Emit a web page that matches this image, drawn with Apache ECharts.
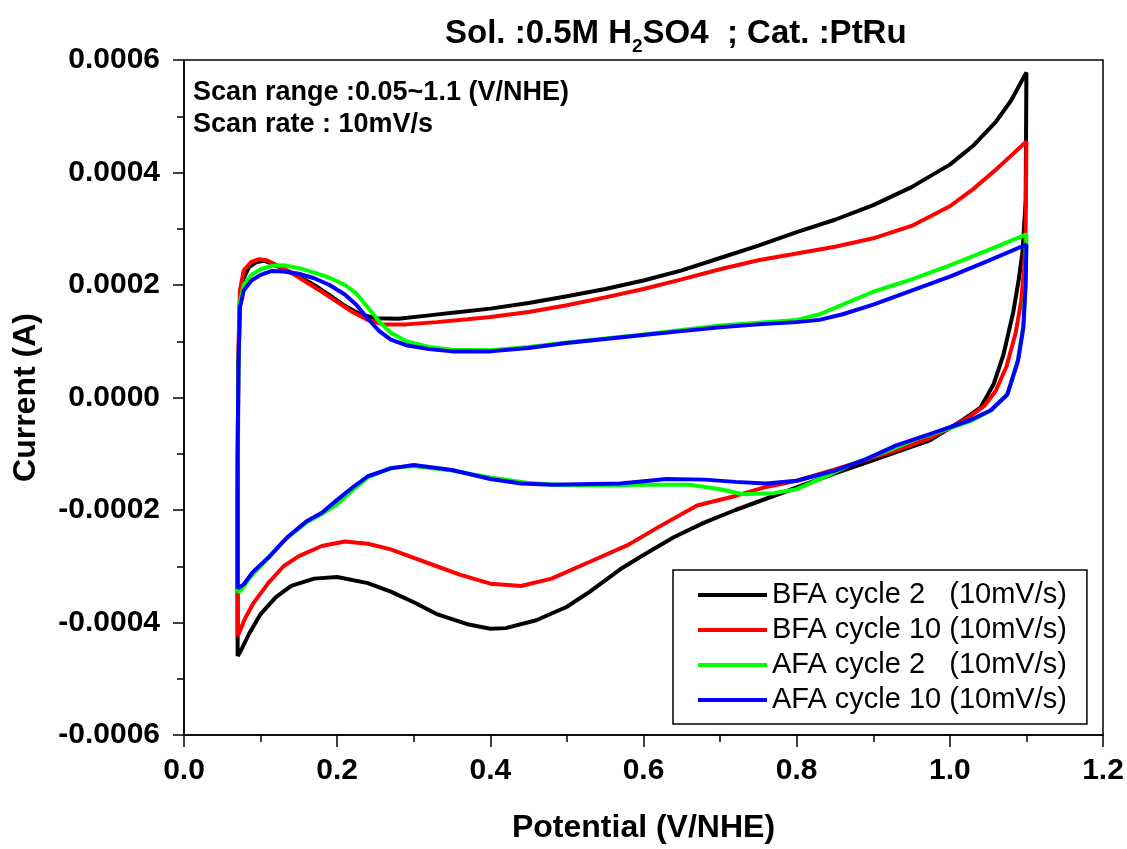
<!DOCTYPE html>
<html>
<head>
<meta charset="utf-8">
<script src="https://cdn.jsdelivr.net/npm/echarts@6/dist/echarts.min.js"></script>
<style>
  html, body { margin: 0; padding: 0; background: #fff; }
  #chart { width: 1127px; height: 849px; }
</style>
</head>
<body>
<div id="chart"></div>
<script>
// legend names
const seriesNames = ['BFA cycle 2   (10mV/s)', 'BFA cycle 10 (10mV/s)', 'AFA cycle 2   (10mV/s)', 'AFA cycle 10 (10mV/s)'];
const seriesColors = ['#000000', '#ff0000', '#00ff00', '#0000ff'];

// [potential V/NHE, current A] - anodic sweep then cathodic sweep back
const bfa2 = [
  [0.070,-0.000460],[0.070,-0.000200],[0.071,0.000050],[0.073,0.000170],[0.078,0.000212],[0.085,0.000232],
  [0.095,0.000241],[0.105,0.000243],[0.115,0.000238],[0.13,0.000228],[0.15,0.000215],[0.17,0.000200],
  [0.19,0.000182],[0.21,0.000163],[0.23,0.000148],[0.25,0.000141],[0.28,0.000140],[0.32,0.000146],
  [0.36,0.000152],[0.40,0.000158],[0.45,0.000168],[0.50,0.000180],[0.55,0.000193],[0.60,0.000208],
  [0.65,0.000226],[0.70,0.000248],[0.75,0.000270],[0.80,0.000294],[0.85,0.000316],[0.90,0.000342],
  [0.95,0.000374],[1.00,0.000414],[1.03,0.000447],[1.06,0.000490],[1.08,0.000528],[1.10,0.000578],
  [1.099,0.000350],[1.095,0.000260],[1.090,0.000210],[1.083,0.000153],[1.070,0.000076],[1.057,0.000023],
  [1.040,-0.000018],[1.017,-0.000040],[0.974,-0.000076],[0.93,-0.000097],[0.89,-0.000116],[0.85,-0.000135],
  [0.80,-0.000160],[0.76,-0.000180],[0.72,-0.000200],[0.68,-0.000222],[0.64,-0.000248],[0.60,-0.000280],
  [0.57,-0.000305],[0.53,-0.000345],[0.50,-0.000372],[0.46,-0.000396],[0.42,-0.000410],[0.40,-0.000411],
  [0.37,-0.000403],[0.33,-0.000385],[0.30,-0.000364],[0.27,-0.000345],[0.24,-0.000330],[0.20,-0.000319],
  [0.17,-0.000322],[0.14,-0.000335],[0.12,-0.000355],[0.10,-0.000385],[0.085,-0.000420],[0.075,-0.000448],
  [0.070,-0.000460]
];
const bfa10 = [
  [0.070,-0.000425],[0.070,-0.000150],[0.071,0.000080],[0.073,0.000190],[0.078,0.000226],[0.088,0.000241],
  [0.098,0.000246],[0.108,0.000244],[0.12,0.000236],[0.14,0.000222],[0.16,0.000205],[0.18,0.000188],
  [0.20,0.000170],[0.22,0.000152],[0.24,0.000138],[0.26,0.000130],[0.29,0.000130],[0.33,0.000134],
  [0.37,0.000139],[0.40,0.000143],[0.45,0.000152],[0.50,0.000164],[0.55,0.000178],[0.60,0.000193],
  [0.65,0.000210],[0.70,0.000228],[0.75,0.000244],[0.80,0.000256],[0.85,0.000268],[0.90,0.000283],
  [0.95,0.000305],[1.00,0.000340],[1.03,0.000370],[1.06,0.000405],[1.08,0.000430],[1.10,0.000455],
  [1.099,0.000300],[1.097,0.000230],[1.093,0.000170],[1.086,0.000115],[1.074,0.000055],[1.060,0.000012],
  [1.045,-0.000015],[1.022,-0.000038],[0.974,-0.000072],[0.93,-0.000094],[0.89,-0.000111],[0.85,-0.000128],
  [0.80,-0.000148],[0.76,-0.000159],[0.72,-0.000175],[0.67,-0.000192],[0.62,-0.000230],[0.58,-0.000262],
  [0.53,-0.000292],[0.48,-0.000322],[0.44,-0.000335],[0.40,-0.000331],[0.36,-0.000315],[0.33,-0.000300],
  [0.30,-0.000285],[0.27,-0.000270],[0.24,-0.000260],[0.21,-0.000256],[0.18,-0.000264],[0.15,-0.000282],
  [0.13,-0.000300],[0.11,-0.000330],[0.09,-0.000367],[0.08,-0.000392],[0.072,-0.000418],[0.070,-0.000425]
];
const afa2 = [
  [0.070,-0.000347],[0.070,-0.000100],[0.071,0.000050],[0.073,0.000170],[0.078,0.000200],[0.088,0.000218],
  [0.10,0.000228],[0.115,0.000234],[0.13,0.000235],[0.15,0.000230],[0.17,0.000222],[0.19,0.000213],
  [0.21,0.000200],[0.225,0.000185],[0.24,0.000160],[0.255,0.000135],[0.27,0.000115],[0.29,0.000100],
  [0.32,0.000090],[0.35,0.000085],[0.40,0.000084],[0.45,0.000090],[0.50,0.000098],[0.55,0.000105],
  [0.60,0.000112],[0.65,0.000120],[0.70,0.000128],[0.75,0.000133],[0.80,0.000138],[0.83,0.000148],
  [0.86,0.000165],[0.90,0.000188],[0.95,0.000210],[1.00,0.000235],[1.05,0.000262],[1.10,0.000290],
  [1.099,0.000210],[1.096,0.000130],[1.089,0.000068],[1.076,0.000008],[1.055,-0.000022],[1.027,-0.000042],
  [1.00,-0.000055],[0.96,-0.000072],[0.92,-0.000094],[0.87,-0.000120],[0.83,-0.000145],[0.80,-0.000163],
  [0.77,-0.000170],[0.73,-0.000172],[0.70,-0.000163],[0.66,-0.000155],[0.60,-0.000155],[0.55,-0.000156],
  [0.50,-0.000156],[0.45,-0.000152],[0.40,-0.000142],[0.35,-0.000130],[0.30,-0.000122],[0.27,-0.000125],
  [0.24,-0.000142],[0.22,-0.000165],[0.20,-0.000190],[0.18,-0.000207],[0.16,-0.000222],[0.13,-0.000255],
  [0.10,-0.000300],[0.085,-0.000322],[0.075,-0.000342],[0.070,-0.000347]
];
const afa10 = [
  [0.070,-0.000340],[0.070,-0.000100],[0.071,0.000050],[0.073,0.000160],[0.078,0.000190],[0.088,0.000208],
  [0.10,0.000218],[0.115,0.000225],[0.13,0.000224],[0.15,0.000220],[0.17,0.000212],[0.19,0.000200],
  [0.21,0.000183],[0.225,0.000165],[0.24,0.000140],[0.255,0.000118],[0.27,0.000103],[0.29,0.000093],
  [0.32,0.000086],[0.35,0.000082],[0.40,0.000082],[0.45,0.000088],[0.50,0.000097],[0.55,0.000104],
  [0.60,0.000111],[0.65,0.000118],[0.70,0.000125],[0.75,0.000130],[0.80,0.000134],[0.83,0.000138],
  [0.86,0.000148],[0.90,0.000165],[0.95,0.000190],[1.00,0.000215],[1.05,0.000243],[1.10,0.000272],
  [1.099,0.000200],[1.096,0.000124],[1.089,0.000065],[1.075,0.000005],[1.053,-0.000023],[1.027,-0.000040],
  [0.974,-0.000065],[0.93,-0.000085],[0.89,-0.000110],[0.85,-0.000130],[0.80,-0.000148],[0.76,-0.000153],
  [0.72,-0.000150],[0.68,-0.000146],[0.63,-0.000145],[0.57,-0.000153],[0.48,-0.000155],[0.44,-0.000153],
  [0.40,-0.000145],[0.35,-0.000129],[0.30,-0.000120],[0.27,-0.000126],[0.24,-0.000140],[0.22,-0.000160],
  [0.20,-0.000182],[0.18,-0.000205],[0.16,-0.000220],[0.136,-0.000247],[0.11,-0.000285],[0.09,-0.000310],
  [0.078,-0.000332],[0.070,-0.000340]
];
const curves = [bfa2, bfa10, afa2, afa10];

const notes = ['Scan range :0.05~1.1 (V/NHE)', 'Scan rate : 10mV/s'];

const myChart = echarts.init(document.getElementById('chart'), null, { renderer: 'canvas' });

const font = 'Liberation Sans, Arial, sans-serif';

const option = {
  animation: false,
  backgroundColor: '#fff',
  title: {
    text: '{a|Sol. :0.5M H}{s|2}{a|SO4  ; Cat. :PtRu}',
    left: 440,
    top: 7,
    textStyle: {
      rich: {
        a: { fontFamily: font, fontWeight: 'bold', fontSize: 33, color: '#000', lineHeight: 44 },
        s: { fontFamily: font, fontWeight: 'bold', fontSize: 19, color: '#000', lineHeight: 19, verticalAlign: 'bottom' }
      }
    }
  },
  grid: {
    left: 184,
    right: 24,
    top: 60,
    bottom: 109,
    show: true,
    borderColor: '#000',
    borderWidth: 1.5,
    backgroundColor: 'transparent'
  },
  legend: {
    orient: 'vertical',
    left: 673,
    top: 570,
    data: seriesNames,
    icon: 'rect',
    itemWidth: 69,
    itemHeight: 4,
    itemGap: 5,
    padding: [10, 20, 9, 25],
    borderColor: '#000',
    borderWidth: 1.5,
    borderRadius: 0,
    textStyle: { fontFamily: font, fontSize: 29, lineHeight: 30, color: '#000' }
  },
  graphic: notes.map((t, i) => ({
    type: 'text',
    left: 193,
    top: 79 + i * 32,
    style: { text: t, fontFamily: font, fontWeight: 'bold', fontSize: 27, fill: '#000' }
  })),
  xAxis: {
    type: 'value',
    min: 0,
    max: 1.2,
    interval: 0.2,
    name: 'Potential (V/NHE)',
    nameLocation: 'middle',
    nameGap: 77,
    nameTextStyle: { fontFamily: font, fontWeight: 'bold', fontSize: 32, color: '#000' },
    axisLine: { show: true, onZero: false, lineStyle: { color: '#000', width: 1.5 } },
    axisTick: { show: true, inside: false, length: 12, lineStyle: { color: '#000', width: 1.5 } },
    minorTick: { show: true, splitNumber: 2, length: 7, lineStyle: { color: '#000', width: 1.5 } },
    splitLine: { show: false },
    axisLabel: {
      margin: 21,
      fontFamily: font, fontWeight: 'bold', fontSize: 30, color: '#000',
      formatter: v => v.toFixed(1)
    }
  },
  yAxis: {
    type: 'value',
    min: -0.0006,
    max: 0.0006,
    interval: 0.0002,
    name: 'Current (A)',
    nameLocation: 'middle',
    nameGap: 142,
    nameTextStyle: { fontFamily: font, fontWeight: 'bold', fontSize: 32, color: '#000' },
    axisLine: { show: true, onZero: false, lineStyle: { color: '#000', width: 1.5 } },
    axisTick: { show: true, inside: false, length: 11, lineStyle: { color: '#000', width: 1.5 } },
    minorTick: { show: true, splitNumber: 2, length: 7, lineStyle: { color: '#000', width: 1.5 } },
    splitLine: { show: false },
    axisLabel: {
      margin: 24,
      fontFamily: font, fontWeight: 'bold', fontSize: 30, color: '#000',
      formatter: v => (Math.abs(v) < 1e-12 ? 0 : v).toFixed(4)
    }
  },
  series: curves.map((d, i) => ({
    name: seriesNames[i],
    type: 'line',
    data: d,
    symbol: 'none',
    smooth: false,
    color: seriesColors[i],
    lineStyle: { color: seriesColors[i], width: 4 }
  }))
};

myChart.setOption(option);
</script>
</body>
</html>
